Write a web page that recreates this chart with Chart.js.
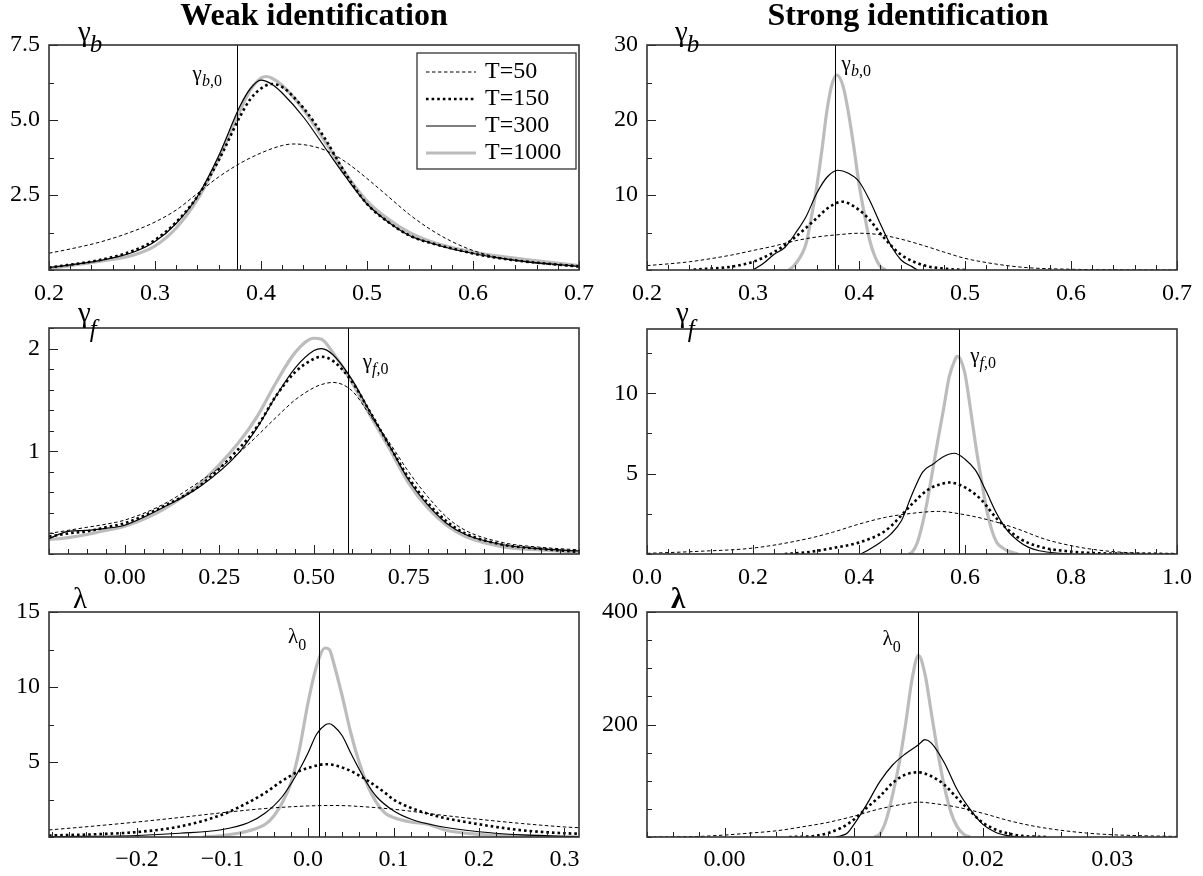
<!DOCTYPE html>
<html><head><meta charset="utf-8">
<script src="https://cdn.jsdelivr.net/npm/chart.js@4.4.0/dist/chart.umd.min.js"></script>
<style>
html,body{margin:0;padding:0;background:#fff;width:1203px;height:876px;overflow:hidden}
canvas{position:absolute}
</style></head><body>
<canvas id="c1" width="600" height="310" style="left:0px;top:0px"></canvas>
<canvas id="c2" width="603" height="310" style="left:600px;top:0px"></canvas>
<canvas id="c3" width="600" height="295" style="left:0px;top:300px"></canvas>
<canvas id="c4" width="603" height="295" style="left:600px;top:300px"></canvas>
<canvas id="c5" width="600" height="291" style="left:0px;top:585px"></canvas>
<canvas id="c6" width="603" height="291" style="left:600px;top:585px"></canvas>
<script>
// ---------------- DATA ----------------
const seriesLabels = ['T=50', 'T=150', 'T=300', 'T=1000'];

// Panel 1: weak identification, gamma_b
const wbX50 = [0.2,0.22,0.25,0.28,0.3,0.32,0.34,0.36,0.38,0.40,0.42,0.43,0.44,0.46,0.48,0.50,0.52,0.54,0.56,0.58,0.60,0.62,0.65,0.7];
const wbY50 = [0.56,0.7,0.95,1.3,1.6,2.0,2.55,3.1,3.55,3.9,4.15,4.2,4.18,4.0,3.6,3.05,2.45,1.85,1.35,0.95,0.65,0.45,0.27,0.1];
const wbX150 = [0.2,0.25,0.28,0.3,0.32,0.34,0.36,0.38,0.39,0.40,0.41,0.42,0.44,0.46,0.48,0.5,0.52,0.54,0.56,0.58,0.6,0.62,0.65,0.7];
const wbY150 = [0.08,0.35,0.65,1.0,1.6,2.45,3.65,5.1,5.7,6.05,6.2,6.1,5.4,4.4,3.2,2.2,1.6,1.15,0.9,0.72,0.55,0.42,0.28,0.12];
const wbX300 = [0.2,0.25,0.28,0.3,0.32,0.34,0.36,0.38,0.39,0.40,0.41,0.42,0.44,0.46,0.48,0.5,0.52,0.54,0.56,0.58,0.6,0.62,0.65,0.7];
const wbY300 = [0.08,0.33,0.6,0.95,1.55,2.45,3.8,5.45,6.05,6.33,6.2,5.9,5.1,4.1,3.1,2.2,1.6,1.15,0.9,0.7,0.55,0.42,0.28,0.12];
const wbX1000 = [0.2,0.25,0.28,0.3,0.32,0.34,0.36,0.38,0.39,0.40,0.405,0.41,0.42,0.44,0.46,0.48,0.5,0.52,0.54,0.56,0.58,0.6,0.62,0.65,0.7];
const wbY1000 = [0.05,0.3,0.5,0.8,1.4,2.35,3.7,5.3,6.0,6.4,6.45,6.4,6.15,5.35,4.3,3.2,2.3,1.7,1.25,0.95,0.75,0.6,0.48,0.35,0.15];

// Panel 2: strong identification, gamma_b
const sbX50 = [0.2,0.24,0.28,0.30,0.32,0.34,0.36,0.38,0.40,0.42,0.44,0.46,0.48,0.50,0.52,0.54,0.56,0.6,0.65,0.7];
const sbY50 = [0.58,1.1,2.0,2.6,3.2,3.9,4.4,4.7,4.9,4.7,4.1,3.3,2.4,1.55,1.0,0.58,0.3,0.1,0.02,0];
const sbX150 = [0.244,0.28,0.30,0.32,0.34,0.36,0.37,0.38,0.385,0.39,0.40,0.41,0.42,0.43,0.44,0.46,0.48,0.5];
const sbY150 = [0.05,0.45,1.1,2.4,4.4,6.9,8.2,9.0,9.1,8.9,8.0,6.7,4.9,3.3,2.0,0.67,0.18,0];
const sbX300 = [0.3,0.31,0.32,0.33,0.34,0.35,0.36,0.37,0.38,0.39,0.40,0.41,0.42,0.43,0.44,0.45,0.455];
const sbY300 = [0,0.9,2.1,3.0,4.9,7.1,10.2,12.4,13.3,12.9,11.8,9.3,6.2,3.3,1.3,0.45,0];
const sbX1000 = [0.334,0.34,0.35,0.355,0.36,0.365,0.37,0.375,0.379,0.385,0.39,0.395,0.40,0.405,0.41,0.415,0.42,0.425];
const sbY1000 = [0,0.8,3.5,7,11,16,21.5,25,26,24.5,21,16.5,11.5,7.5,4,1.8,0.5,0];

// Panel 3: weak identification, gamma_f
const wfX = [-0.2,-0.15,-0.1,-0.05,0.0,0.1,0.2,0.3,0.35,0.4,0.45,0.5,0.52,0.55,0.6,0.65,0.7,0.75,0.8,0.85,0.9,1.0,1.1,1.2];
const wfY50 = [0.2,0.23,0.26,0.29,0.33,0.48,0.71,0.98,1.15,1.33,1.5,1.62,1.65,1.67,1.59,1.34,1.08,0.8,0.56,0.36,0.23,0.11,0.065,0.04];
const wfY150 = [0.17,0.2,0.22,0.26,0.3,0.46,0.67,1.02,1.24,1.54,1.77,1.9,1.92,1.88,1.68,1.37,1.05,0.74,0.5,0.32,0.2,0.09,0.05,0.02];
const wfY300 = [0.15,0.22,0.23,0.25,0.28,0.45,0.66,0.98,1.23,1.54,1.81,1.98,2.0,1.94,1.7,1.37,1.05,0.72,0.48,0.3,0.19,0.09,0.05,0.03];
const wfY1000 = [0.14,0.16,0.19,0.23,0.27,0.43,0.69,1.08,1.34,1.67,1.96,2.1,2.09,1.96,1.67,1.34,1.02,0.69,0.45,0.28,0.17,0.07,0.04,0.02];

// Panel 4: strong identification, gamma_f
const sfX50 = [0.0,0.1,0.2,0.3,0.35,0.4,0.45,0.5,0.55,0.6,0.65,0.7,0.75,0.8,0.85,0.9,1.0];
const sfY50 = [0.04,0.17,0.37,0.93,1.35,1.86,2.28,2.53,2.65,2.44,2.07,1.55,0.93,0.52,0.25,0.1,0.02];
const sfX150 = [0.26,0.3,0.35,0.4,0.45,0.5,0.53,0.56,0.57,0.6,0.63,0.66,0.7,0.74,0.8,0.85,0.9,1.0];
const sfY150 = [0,0.1,0.37,0.72,1.45,3.1,4.0,4.4,4.45,4.14,3.4,2.2,1.03,0.46,0.15,0.05,0.02,0];
const sfX300 = [0.403,0.42,0.44,0.46,0.48,0.50,0.52,0.54,0.56,0.58,0.6,0.62,0.64,0.66,0.68,0.7,0.72,0.74,0.78,0.8];
const sfY300 = [0,0.3,0.72,1.24,2.07,3.7,5.1,5.6,6.07,6.27,5.9,5.2,3.9,2.5,1.45,0.83,0.41,0.2,0.04,0];
const sfX1000 = [0.494,0.5,0.51,0.52,0.53,0.54,0.55,0.56,0.57,0.58,0.585,0.59,0.6,0.61,0.62,0.63,0.64,0.65,0.66,0.67,0.68,0.7];
const sfY1000 = [0,0.1,0.7,1.9,3.5,5.4,7.3,9.1,11,12,12.3,12.2,11.2,9.1,6.8,4.8,2.9,1.55,0.72,0.4,0.2,0];

// Panel 5: weak identification, lambda
const wlX50 = [-0.303,-0.25,-0.2,-0.15,-0.1,-0.05,0.0,0.03,0.05,0.1,0.15,0.2,0.25,0.3,0.317];
const wlY50 = [0.47,0.73,1.0,1.3,1.62,1.9,2.07,2.1,2.07,1.85,1.5,1.18,0.9,0.67,0.62];
const wlX150 = [-0.303,-0.25,-0.2,-0.15,-0.1,-0.07,-0.05,-0.03,-0.01,0.0,0.02,0.03,0.05,0.07,0.09,0.1,0.12,0.15,0.2,0.25,0.3,0.317];
const wlY150 = [0.1,0.18,0.33,0.7,1.5,2.3,2.95,3.75,4.4,4.6,4.85,4.8,4.4,3.75,2.95,2.5,1.95,1.4,0.85,0.45,0.25,0.22];
const wlX300 = [-0.303,-0.2,-0.15,-0.1,-0.07,-0.05,-0.03,-0.01,0.0,0.01,0.02,0.025,0.03,0.04,0.05,0.06,0.07,0.08,0.1,0.12,0.15,0.2,0.25,0.3,0.317];
const wlY300 = [0.02,0.1,0.25,0.5,0.95,1.6,2.7,4.5,5.6,6.85,7.47,7.55,7.4,6.75,5.6,4.5,3.5,2.7,1.75,1.2,0.75,0.35,0.14,0.05,0.03];
const wlX1000 = [-0.123,-0.1,-0.07,-0.05,-0.04,-0.03,-0.02,-0.01,0.0,0.01,0.02,0.025,0.03,0.04,0.05,0.06,0.07,0.08,0.09,0.1,0.12,0.14,0.16,0.2,0.25,0.3];
const wlY1000 = [0,0.1,0.4,0.85,1.4,2.3,3.6,5.85,8.95,11.4,12.6,12.5,11.6,9.4,6.95,4.95,3.4,2.3,1.6,1.3,1.0,0.85,0.47,0.18,0.07,0.02];

// Panel 6: strong identification, lambda
const slX50 = [-0.006,-0.002,0.0,0.002,0.004,0.006,0.008,0.010,0.012,0.014,0.015,0.016,0.018,0.020,0.022,0.024,0.026,0.028,0.030,0.032,0.035];
const slY50 = [0,1,3.5,7,11,18,26,37,50,59,62,60,53,42,29,19,12,7,4,2.4,1];
const slX150 = [0.005,0.007,0.009,0.010,0.011,0.012,0.013,0.014,0.015,0.016,0.017,0.018,0.019,0.020,0.021,0.022,0.023,0.025];
const slY150 = [0,2,16,31,52,72,96,111,115,108,93,69,46,25,13,6,2,0];
const slX300 = [0.0086,0.009,0.0095,0.010,0.011,0.012,0.013,0.014,0.015,0.0155,0.016,0.017,0.018,0.019,0.020,0.021,0.022,0.023];
const slY300 = [0,2,7,22,58,98,128,148,164,173,167,132,84,49,22,8,2,0];
const slX1000 = [0.0116,0.012,0.0125,0.013,0.0135,0.014,0.0145,0.015,0.0155,0.016,0.0165,0.017,0.0175,0.018,0.0185,0.019];
const slY1000 = [0,5,30,75,130,200,280,323,290,220,150,90,45,18,5,0];

// True values (vertical reference lines)
const gammaB0 = 0.377;
const gammaF0 = 0.589;
const lambda0Weak = 0.0128;
const lambda0Strong = 0.015;

// Tick values and labels
const xTicksB = [0.2,0.3,0.4,0.5,0.6,0.7];
const xLabelsB = ['0.2','0.3','0.4','0.5','0.6','0.7'];
const xTicksWF = [0,0.25,0.5,0.75,1.0];
const xLabelsWF = ['0.00','0.25','0.50','0.75','1.00'];
const xTicksSF = [0,0.2,0.4,0.6,0.8,1.0];
const xLabelsSF = ['0.0','0.2','0.4','0.6','0.8','1.0'];
const xTicksWL = [-0.2,-0.1,0,0.1,0.2,0.3];
const xLabelsWL = ['\u22120.2','\u22120.1','0.0','0.1','0.2','0.3'];
const xTicksSL = [0,0.01,0.02,0.03];
const xLabelsSL = ['0.00','0.01','0.02','0.03'];
const yTicksWB = [2.5,5,7.5];  const yLabelsWB = ['2.5','5.0','7.5'];
const yTicksSB = [10,20,30];   const yLabelsSB = ['10','20','30'];
const yTicksWF = [1,2];        const yLabelsWF = ['1','2'];
const yTicksSF = [5,10];       const yLabelsSF = ['5','10'];
const yTicksWL = [5,10,15];    const yLabelsWL = ['5','10','15'];
const yTicksSL = [200,400];    const yLabelsSL = ['200','400'];

// ---------------- STYLES ----------------
const SERIF = '"Liberation Serif", "Times New Roman", serif';
const TICK_SIZE = 24;
const styles = [
  {color:'#000', width:1.0, dash:[3.5,2.5]},
  {color:'#000', width:2.6, dash:[2.6,3]},
  {color:'#000', width:1.2, dash:[]},
  {color:'#bcbcbc', width:3.2, dash:[]}
];

function mkSeries(pairs) {
  return pairs.map((p, i) => ({
    label: seriesLabels[i],
    data: p[0].map((x, k) => ({x: x, y: p[1][k]})),
    borderColor: styles[i].color,
    borderWidth: styles[i].width,
    borderDash: styles[i].dash,
    borderCapStyle: 'butt',
    pointRadius: 0,
    fill: false,
    tension: 0.4,
    cubicInterpolationMode: 'monotone'
  }));
}

function drawRich(ctx, x, y, parts) {
  let cx = x;
  ctx.textAlign = 'left';
  ctx.textBaseline = 'alphabetic';
  ctx.fillStyle = '#000';
  for (const p of parts) {
    ctx.font = (p.it ? 'italic ' : '') + (p.b ? 'bold ' : '') + p.s + 'px ' + SERIF;
    cx += (p.dx || 0);
    ctx.fillText(p.t, cx, y + (p.dy || 0));
    cx += ctx.measureText(p.t).width;
  }
}

const panelPlugin = {
  id: 'panelDeco',
  afterDatasetsDraw(chart) {
    const cfg = chart.options.plugins.panelDeco;
    const ctx = chart.ctx;
    const a = chart.chartArea;
    const xs = chart.scales.x, ys = chart.scales.y;
    ctx.save();
    // reference line
    const rx = xs.getPixelForValue(cfg.ref);
    ctx.strokeStyle = '#000'; ctx.lineWidth = 1; ctx.setLineDash([]);
    ctx.beginPath(); ctx.moveTo(Math.round(rx)+0.5, a.top); ctx.lineTo(Math.round(rx)+0.5, a.bottom); ctx.stroke();
    // ticks
    ctx.strokeStyle = '#222'; ctx.lineWidth = 1;
    const tk = (s, min, max, step, len, horiz) => {
      const k0 = Math.ceil(min/step - 1e-6), k1 = Math.floor(max/step + 1e-6);
      for (let k = k0; k <= k1; k++) {
        const v = k*step;
        ctx.beginPath();
        const p = Math.round(s.getPixelForValue(v))+0.5;
        if (horiz) { ctx.moveTo(p, a.bottom); ctx.lineTo(p, a.bottom-len); }
        else { ctx.moveTo(a.left, p); ctx.lineTo(a.left+len, p); }
        ctx.stroke();
      }
    };
    tk(xs, xs.min, xs.max, cfg.xMinor, 5, true);
    tk(ys, ys.min, ys.max, cfg.yMinor, 5, false);
    for (const t of xs.ticks) { const p = Math.round(xs.getPixelForValue(t.value))+0.5; ctx.beginPath(); ctx.moveTo(p, a.bottom); ctx.lineTo(p, a.bottom-9); ctx.stroke(); }
    for (const t of ys.ticks) { const p = Math.round(ys.getPixelForValue(t.value))+0.5; ctx.beginPath(); ctx.moveTo(a.left, p); ctx.lineTo(a.left+9, p); ctx.stroke(); }
    // frame
    ctx.strokeStyle = '#333'; ctx.lineWidth = 1.6;
    ctx.strokeRect(a.left, a.top, a.right - a.left, a.bottom - a.top);
    // axis symbol label
    drawRich(ctx, a.left + cfg.sym.dx, a.top + cfg.sym.dy, cfg.sym.parts);
    // reference label
    drawRich(ctx, rx + cfg.refLab.dx, a.top + cfg.refLab.dy, cfg.refLab.parts);
    // title
    if (cfg.title) {
      ctx.font = 'bold 32px ' + SERIF; ctx.textAlign = 'center'; ctx.textBaseline = 'alphabetic'; ctx.fillStyle = '#000';
      ctx.fillText(cfg.title, cfg.titleX, 25);
    }
    // legend
    if (cfg.legend) {
      const bx = a.right - 162, by = a.top + 8, bw = 159, bh = 116;
      ctx.strokeStyle = '#333'; ctx.lineWidth = 1.3;
      ctx.strokeRect(bx, by, bw, bh);
      chart.data.datasets.forEach((d, i) => {
        const yy = by + 18 + i*27;
        ctx.strokeStyle = d.borderColor; ctx.lineWidth = d.borderWidth; ctx.setLineDash(d.borderDash);
        ctx.beginPath(); ctx.moveTo(bx + 9, yy + 1); ctx.lineTo(bx + 59, yy + 1); ctx.stroke();
        ctx.setLineDash([]);
        ctx.font = '24px ' + SERIF; ctx.fillStyle = '#000'; ctx.textAlign = 'left'; ctx.textBaseline = 'middle';
        ctx.fillText(d.label, bx + 68, yy + 1);
      });
    }
    ctx.restore();
  }
};

function makePanel(id, p) {
  new Chart(document.getElementById(id), {
    type: 'line',
    data: { datasets: mkSeries(p.series) },
    options: {
      responsive: false, animation: false,
      layout: { padding: { left: 0, top: p.padTop, right: p.padRight, bottom: 0 } },
      plugins: { legend: {display:false}, tooltip: {enabled:false}, panelDeco: p.deco },
      scales: {
        x: {
          type: 'linear', min: p.xMin, max: p.xMax,
          grid: {display:false, drawTicks:false}, border: {display:false},
          ticks: { font: {family: SERIF, size: TICK_SIZE}, color: '#000', padding: p.xPad, maxRotation: 0, autoSkip: false,
                   callback: (v, i) => p.xLabels[i] },
          afterBuildTicks: s => { s.ticks = p.xTicks.map(v => ({value: v})); },
          afterFit: s => { s.height = p.xH; s.paddingLeft = 0; s.paddingRight = 0; }
        },
        y: {
          type: 'linear', min: 0, max: p.yMax,
          grid: {display:false, drawTicks:false}, border: {display:false},
          ticks: { font: {family: SERIF, size: TICK_SIZE}, color: '#000', padding: 9, autoSkip: false,
                   callback: (v, i) => p.yLabels[i] },
          afterBuildTicks: s => { s.ticks = p.yTicks.map(v => ({value: v})); },
          afterFit: s => { s.width = p.yW; s.paddingTop = 0; s.paddingBottom = 0; }
        }
      }
    },
    plugins: [panelPlugin]
  });
}

const gSym = (sub, subDy) => [{t:'\u03B3', s:29}, {t:sub, s:25, it:true, dy:subDy, dx:-1}];
const gRef = (sub) => [{t:'\u03B3', s:21}, {t:sub, s:16, it:true, dy:6}, {t:',0', s:16, dy:6}];
const lRef = [{t:'\u03BB', s:21}, {t:'0', s:16, dy:7}];

makePanel('c1', {
  series: [[wbX50,wbY50],[wbX150,wbY150],[wbX300,wbY300],[wbX1000,wbY1000]],
  xMin:0.2, xMax:0.7, yMax:7.5, xTicks:xTicksB, xLabels:xLabelsB, yTicks:yTicksWB, yLabels:yLabelsWB,
  padTop:45, padRight:21, yW:49, xH:40, xPad:9,
  deco: { ref:gammaB0, xMinor:0.02, yMinor:1.25, title:'Weak identification', titleX:314, legend:true,
          sym:{dx:29, dy:-4, parts:gSym('b', 11)}, refLab:{dx:-44, dy:35, parts:gRef('b')} }
});
makePanel('c2', {
  series: [[sbX50,sbY50],[sbX150,sbY150],[sbX300,sbY300],[sbX1000,sbY1000]],
  xMin:0.2, xMax:0.7, yMax:30, xTicks:xTicksB, xLabels:xLabelsB, yTicks:yTicksSB, yLabels:yLabelsSB,
  padTop:45, padRight:26, yW:47, xH:40, xPad:9,
  deco: { ref:gammaB0, xMinor:0.02, yMinor:5, title:'Strong identification', titleX:308, legend:false,
          sym:{dx:28, dy:-4, parts:gSym('b', 11)}, refLab:{dx:7, dy:25, parts:gRef('b')} }
});
makePanel('c3', {
  series: [[wfX,wfY50],[wfX,wfY150],[wfX,wfY300],[wfX,wfY1000]],
  xMin:-0.2, xMax:1.2, yMax:2.2, xTicks:xTicksWF, xLabels:xLabelsWF, yTicks:yTicksWF, yLabels:yLabelsWF,
  padTop:28, padRight:21, yW:49, xH:41, xPad:9,
  deco: { ref:gammaF0, xMinor:0.05, yMinor:0.2, legend:false,
          sym:{dx:29, dy:-6, parts:gSym('f', 15)}, refLab:{dx:15, dy:40, parts:gRef('f')} }
});
makePanel('c4', {
  series: [[sfX50,sfY50],[sfX150,sfY150],[sfX300,sfY300],[sfX1000,sfY1000]],
  xMin:0, xMax:1, yMax:14, xTicks:xTicksSF, xLabels:xLabelsSF, yTicks:yTicksSF, yLabels:yLabelsSF,
  padTop:29, padRight:26, yW:47, xH:41, xPad:9,
  deco: { ref:gammaF0, xMinor:0.04, yMinor:2.5, legend:false,
          sym:{dx:29, dy:-7, parts:gSym('f', 15)}, refLab:{dx:11, dy:33, parts:gRef('f')} }
});
makePanel('c5', {
  series: [[wlX50,wlY50],[wlX150,wlY150],[wlX300,wlY300],[wlX1000,wlY1000]],
  xMin:-0.303, xMax:0.317, yMax:15, xTicks:xTicksWL, xLabels:xLabelsWL, yTicks:yTicksWL, yLabels:yLabelsWL,
  padTop:27, padRight:21, yW:49, xH:39, xPad:8,
  deco: { ref:lambda0Weak, xMinor:0.02, yMinor:2.5, legend:false,
          sym:{dx:24, dy:-4, parts:[{t:'\u03BB', s:29}]}, refLab:{dx:-31, dy:31, parts:lRef} }
});
makePanel('c6', {
  series: [[slX50,slY50],[slX150,slY150],[slX300,slY300],[slX1000,slY1000]],
  xMin:-0.006, xMax:0.035, yMax:400, xTicks:xTicksSL, xLabels:xLabelsSL, yTicks:yTicksSL, yLabels:yLabelsSL,
  padTop:27, padRight:26, yW:47, xH:39, xPad:8,
  deco: { ref:lambda0Strong, xMinor:0.002, yMinor:50, legend:false,
          sym:{dx:24, dy:-4, parts:[{t:'\u03BB', s:29, b:true}]}, refLab:{dx:-36, dy:33, parts:lRef} }
});
</script>
</body></html>
